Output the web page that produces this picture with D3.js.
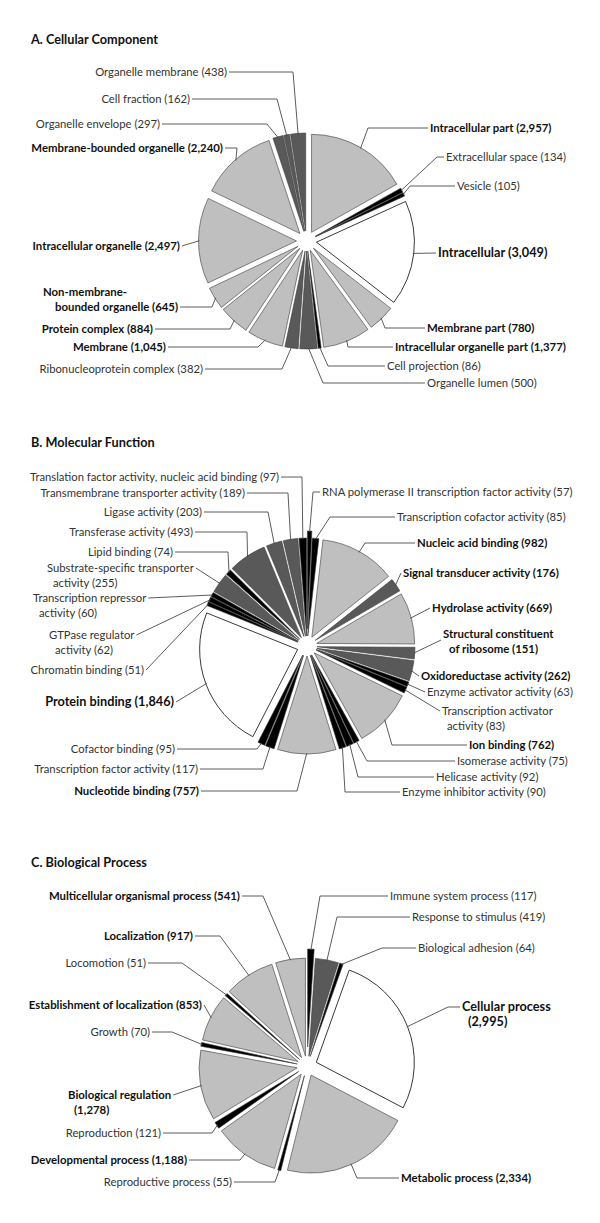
<!DOCTYPE html>
<html><head><meta charset="utf-8">
<script src="https://cdn.jsdelivr.net/npm/d3@7"></script>
<style>html,body{margin:0;padding:0;background:#fff}</style>
</head><body>
<svg id="chart" width="600" height="1223"></svg>
<script>
// ---------- DATA ----------
const titleA = "A. Cellular Component";
const categoriesA = ["Intracellular part","Extracellular space","Vesicle","Intracellular","Membrane part","Intracellular organelle part","Cell projection","Organelle lumen","Ribonucleoprotein complex","Membrane","Protein complex","Non-membrane-bounded organelle","Intracellular organelle","Membrane-bounded organelle","Organelle envelope","Cell fraction","Organelle membrane"];
const valuesA = [2957,134,105,3049,780,1377,86,500,382,1045,884,645,2497,2240,297,162,438];
const emphasisA = [1,0,0,1,1,1,0,0,0,1,1,1,1,1,0,0,0];

const titleB = "B. Molecular Function";
const categoriesB = ["RNA polymerase II transcription factor activity","Transcription cofactor activity","Nucleic acid binding","Signal transducer activity","Hydrolase activity","Structural constituent of ribosome","Oxidoreductase activity","Enzyme activator activity","Transcription activator activity","Ion binding","Isomerase activity","Helicase activity","Enzyme inhibitor activity","Nucleotide binding","Transcription factor activity","Cofactor binding","Protein binding","Chromatin binding","GTPase regulator activity","Transcription repressor activity","Substrate-specific transporter activity","Lipid binding","Transferase activity","Ligase activity","Transmembrane transporter activity","Translation factor activity, nucleic acid binding"];
const valuesB = [57,85,982,176,669,151,262,63,83,762,75,92,90,757,117,95,1846,51,62,60,255,74,493,203,189,97];
const emphasisB = [0,0,1,1,1,1,1,0,0,1,0,0,0,1,0,0,1,0,0,0,0,0,0,0,0,0];

const titleC = "C. Biological Process";
const categoriesC = ["Immune system process","Response to stimulus","Biological adhesion","Cellular process","Metabolic process","Reproductive process","Developmental process","Reproduction","Biological regulation","Growth","Establishment of localization","Locomotion","Localization","Multicellular organismal process"];
const valuesC = [117,419,64,2995,2334,55,1188,121,1278,70,853,51,917,541];
const emphasisC = [0,0,0,1,1,0,1,0,1,0,1,0,1,1];

// ---------- LAYOUT (label placement, not data) ----------
// x,y: text position (first line centre), a: anchor, e: elbow x, br: first-line text, dx2: 2nd line offset, ly: leader y override
const layoutA = [
 {x:430,y:128,a:"start",e:368},
 {x:446,y:157,a:"start",e:437},
 {x:457,y:186,a:"start",e:410},
 {x:438,y:253,a:"start",e:null},
 {x:427,y:328,a:"start",e:385},
 {x:395,y:347,a:"start",e:348},
 {x:387,y:366,a:"start",e:328},
 {x:427,y:383,a:"start",e:323},
 {x:203,y:369,a:"end",e:282},
 {x:166,y:347,a:"end",e:258},
 {x:153,y:329,a:"end",e:230},
 {x:43,y:292,a:"start",e:212,br:"Non-membrane-",dx2:12,at:1},
 {x:180,y:246,a:"end",e:null},
 {x:223,y:148,a:"end",e:237},
 {x:160,y:124,a:"end",e:267},
 {x:190,y:99,a:"end",e:277},
 {x:227,y:72,a:"end",e:293}
];
const layoutB = [
 {x:322,y:492,a:"start",e:313},
 {x:397,y:517,a:"start",e:330},
 {x:417,y:543,a:"start",e:365},
 {x:403,y:573,a:"start",e:null},
 {x:432,y:608,a:"start",e:null},
 {x:443,y:634,a:"start",e:null,br:"Structural constituent",dx2:6,at:0,ly:640},
 {x:421,y:676,a:"start",e:null},
 {x:427,y:692,a:"start",e:null},
 {x:442,y:711,a:"start",e:null,br:"Transcription activator",dx2:5,at:0},
 {x:469,y:745,a:"start",e:392},
 {x:457,y:761,a:"start",e:367},
 {x:436,y:777,a:"start",e:358},
 {x:402,y:792,a:"start",e:345},
 {x:199,y:791,a:"end",e:297},
 {x:198,y:769,a:"end",e:263},
 {x:175,y:749,a:"end",e:257},
 {x:174,y:702,a:"end",e:null},
 {x:144,y:670,a:"end",e:null},
 {x:49,y:635,a:"start",e:null,br:"GTPase regulator",dx2:6,at:0},
 {x:33,y:598,a:"start",e:null,br:"Transcription repressor",dx2:6,at:0},
 {x:47,y:568,a:"start",e:null,br:"Substrate-specific transporter",dx2:6,at:0},
 {x:173,y:552,a:"end",e:228},
 {x:193,y:532,a:"end",e:247},
 {x:202,y:512,a:"end",e:268},
 {x:245,y:493,a:"end",e:288},
 {x:279,y:477,a:"end",e:302}
];
const layoutC = [
 {x:390,y:896,a:"start",e:320},
 {x:412,y:917,a:"start",e:337},
 {x:418,y:948,a:"start",e:382},
 {x:462,y:1007,a:"start",e:448,br:"Cellular process",dx2:6,at:0},
 {x:401,y:1178,a:"start",e:357},
 {x:232,y:1182,a:"end",e:275},
 {x:187,y:1160,a:"end",e:240},
 {x:161,y:1133,a:"end",e:212},
 {x:68,y:1095,a:"start",e:null,br:"Biological regulation",dx2:6,at:0},
 {x:150,y:1032,a:"end",e:172},
 {x:202,y:1005,a:"end",e:null},
 {x:146,y:963,a:"end",e:182},
 {x:193,y:936,a:"end",e:220},
 {x:240,y:896,a:"end",e:263}
];

const panels = [
 {title:titleA, cats:categoriesA, vals:valuesA, emph:emphasisA, layout:layoutA, cx:306.5, cy:241, ty:40, first:0},
 {title:titleB, cats:categoriesB, vals:valuesB, emph:emphasisB, layout:layoutB, cx:307, cy:646, ty:443, first:7},
 {title:titleC, cats:categoriesC, vals:valuesC, emph:emphasisC, layout:layoutC, cx:307, cy:1066, ty:863, first:9}
];

// ---------- DRAW ----------
const FONT = "Lato, 'Open Sans', sans-serif";
const R = 98, EXPLODE = 10;
const svg = d3.select("#chart");
const fmt = d3.format(",");

function fit(str, weight, target, base){
  const t = svg.append("text").attr("font-family",FONT).attr("font-weight",weight).attr("font-size",base).text(str);
  const w = t.node().getComputedTextLength(); t.remove();
  return base*target/w;
}
const fsNormal = fit("Organelle membrane (438)",400,132,11);
const fsBold = fit("Membrane-bounded organelle (2,240)",700,192,11);
const fsBig = fit("Protein binding (1,846)",700,129,13);
const fsTitle = fit("A. Cellular Component",700,127,13);
const lineH = 15;

const pie = d3.pie().sort(null).value(d=>d.v);
const arc = d3.arc().innerRadius(0).outerRadius(R);

panels.forEach(p=>{
  const g = svg.append("g");
  g.append("text").attr("x",31).attr("y",p.ty).attr("dy","0.35em")
   .attr("font-family",FONT).attr("font-weight",700).attr("font-size",fsTitle).attr("fill","#111").text(p.title);

  const maxV = d3.max(p.vals);
  const shade = d3.scaleThreshold().domain([150,520]).range(["#000000","#595959","#bfbfbf"]);
  const color = v => v===maxV ? "#ffffff" : shade(v);

  const data = p.cats.map((c,i)=>({c, v:p.vals[i], i}));
  const arcs = pie(data);
  const pg = g.append("g").attr("transform",`translate(${p.cx},${p.cy})`);
  const off = a => EXPLODE + (a.index===0 ? p.first : 0);
  pg.selectAll("path").data(arcs).join("path")
    .attr("d",arc)
    .attr("transform",a=>{const m=(a.startAngle+a.endAngle)/2, d=off(a);return `translate(${d*Math.sin(m)},${-d*Math.cos(m)})`;})
    .attr("fill",a=>color(a.data.v))
    .attr("stroke",a=>a.data.v===maxV?"#222":"#3a3a3a")
    .attr("stroke-width",a=>a.data.v===maxV?0.9:0.6)
    .attr("stroke-linejoin","round");

  // labels
  const lg = g.append("g");
  arcs.forEach(a=>{
    const L = p.layout[a.index];
    const full = a.data.c + " (" + fmt(a.data.v) + ")";
    const big = a.data.v===maxV;
    const bold = p.emph[a.index]===1;
    const fs = big ? fsBig : (bold ? fsBold : fsNormal);
    const lines = [];
    if (L.br){ lines.push({t:L.br, dx:0}); lines.push({t:full.slice(L.br.length).trim(), dx:L.dx2||0}); }
    else lines.push({t:full, dx:0});
    const nodes = lines.map((ln,k)=> lg.append("text")
      .attr("x",L.x+ln.dx).attr("y",L.y+k*lineH).attr("dy","0.35em")
      .attr("text-anchor",L.a).attr("font-family",FONT)
      .attr("font-weight",bold?700:400).attr("font-size",fs)
      .attr("fill",bold?"#111":"#333").text(ln.t));
    const k = L.at||0;
    const node = nodes[k].node();
    const w = node.getComputedTextLength();
    const tx = L.x + lines[k].dx;
    const leftSide = (L.a==="end" ? tx - w/2 : tx + w/2) < p.cx;
    let sx;
    if (L.a==="end") sx = leftSide ? tx+2 : tx-w-2;
    else sx = leftSide ? tx+w+2 : tx-2;
    const sy = L.ly!=null ? L.ly : L.y + k*lineH;
    const m = (a.startAngle+a.endAngle)/2;
    const rr = off(a) + R*0.99;
    const px = p.cx + rr*Math.sin(m), py = p.cy - rr*Math.cos(m);
    const pts = [[sx,sy]];
    if (L.e!=null) pts.push([L.e, sy]);
    pts.push([px,py]);
    lg.append("path").attr("d",d3.line()(pts)).attr("fill","none")
      .attr("stroke","#4a4a4a").attr("stroke-width",0.9);
  });
});
</script>
</body></html>
